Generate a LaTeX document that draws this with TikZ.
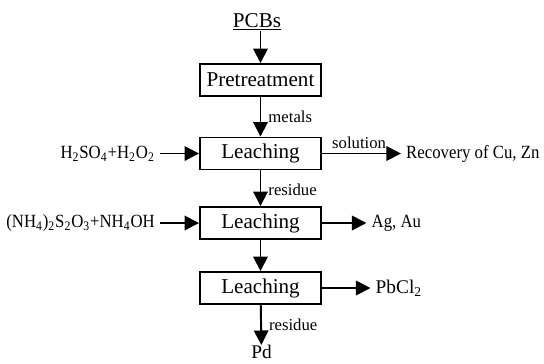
\documentclass[tikz,border=0pt]{standalone}
\usepackage{fontspec}
\setmainfont{Liberation Serif}
\newfontfamily\narrowfont[FakeStretch=0.9]{Liberation Serif}
\usetikzlibrary{positioning,arrows.meta}
\tikzset{
  box/.style={draw, line width=1.1pt, minimum width=2.42cm, minimum height=0.64cm,
    inner sep=0pt, font=\fontsize{12}{14}\selectfont},
  flow/.style={-{Triangle[length=2.9mm,width=2.9mm]}, line width=1.1pt},
  side/.style={inner sep=3pt, outer sep=0pt, font=\narrowfont\fontsize{10.6}{12}\selectfont},
  tag/.style={inner sep=2pt, font=\fontsize{9.5}{11}\selectfont},
}
\begin{document}
\begin{tikzpicture}
    \useasboundingbox (0,0) rectangle (10.88,-7.26);

    % main column
    \node[inner sep=0pt, font=\fontsize{12}{14}\selectfont] (pcbs) at (5.14,-0.44) {\underline{PCBs}};
    \node[box] (pre) at (5.21,-1.60) {Pretreatment};
    \node[box] (leach1) at (5.21,-3.07) {Leaching};
    \node[box] (leach2) at (5.21,-4.46) {Leaching};
    \node[box] (leach3) at (5.21,-5.76) {Leaching};
    \node[inner sep=0pt, anchor=north, font=\fontsize{11}{13}\selectfont] (pd) at (5.23,-6.90) {Pd};

    % reagents
    \node[side, left=0.78cm of leach1] (acid) {H\textsubscript{2}SO\textsubscript{4}+H\textsubscript{2}O\textsubscript{2}};
    \node[side, left=0.78cm of leach2] (thio) {(NH\textsubscript{4})\textsubscript{2}S\textsubscript{2}O\textsubscript{3}+NH\textsubscript{4}OH};

    % products
    \node[side, right=1.58cm of leach1] (cuzn) {Recovery of Cu, Zn};
    \node[side, right=0.89cm of leach2] (agau) {Ag, Au};
    \node[side, right=0.97cm of leach3, font=\fontsize{11}{13}\selectfont] (pbcl) {PbCl\textsubscript{2}};

    % flow
    \draw[flow] (pcbs.south -| pre.north) -- (pre.north);
    \draw[flow] (pre) -- node[tag, right, xshift=2pt] {metals} (leach1);
    \draw[flow] (leach1) -- node[tag, right, xshift=2pt, pos=.55] {residue} (leach2);
    \draw[flow] (leach2) -- (leach3);
    \draw[flow] (leach3) -- node[tag, right, xshift=2pt] {residue} (pd);

    \draw[flow] (acid) -- (leach1);
    \draw[flow] (thio) -- (leach2);
    \draw[flow] (leach1) -- node[tag, above, pos=.47] {solution} (cuzn);
    \draw[flow] (leach2) -- (agau);
    \draw[flow] (leach3) -- (pbcl);
\end{tikzpicture}
\end{document}
